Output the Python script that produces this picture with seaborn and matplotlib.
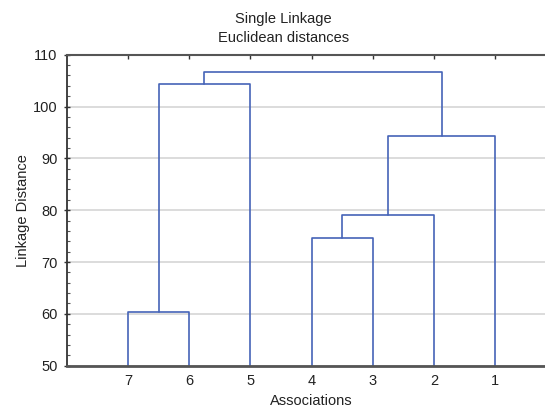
import matplotlib
matplotlib.use("Agg")
import matplotlib.pyplot as plt
from matplotlib.ticker import MultipleLocator
import numpy as np
import pandas as pd
import seaborn as sns

# Leaf labels in dendrogram order (left to right)
leaves = ["7", "6", "5", "4", "3", "2", "1"]

# Single-linkage merge steps: C1..C6 are the clusters formed at each step
link_left = ["7", "4", "C2", "C3", "C1", "C5"]
link_right = ["6", "3", "2", "1", "5", "C4"]
link_height = [60.3, 74.6, 79.0, 94.4, 104.4, 106.6]

y_ticks = [50, 60, 70, 80, 90, 100, 110]

# Node positions: leaves on integer slots, clusters at the midpoint of their children
node_x = {name: i + 1 for i, name in enumerate(leaves)}
node_y = {name: 0.0 for name in leaves}
rows = []
for k, (a, b, h) in enumerate(zip(link_left, link_right, link_height), start=1):
    xs = [node_x[a], node_x[a], node_x[b], node_x[b]]
    ys = [node_y[a], h, h, node_y[b]]
    for order, (xv, yv) in enumerate(zip(xs, ys)):
        rows.append({"link": k, "order": order, "x": xv, "y": yv})
    cname = f"C{k}"
    node_x[cname] = (node_x[a] + node_x[b]) / 2
    node_y[cname] = h
links = pd.DataFrame(rows)

sns.set_style("white")
plt.rcParams["font.family"] = ["Liberation Sans", "DejaVu Sans"]

fig = plt.figure(figsize=(5.45, 4.07), dpi=100)
ax = fig.add_axes([0.1224, 0.1015, 0.8985, 0.7641])

sns.lineplot(data=links, x="x", y="y", units="link", estimator=None, sort=False,
             color="#4563B8", linewidth=1.2, ax=ax, legend=False)

ax.set_xlim(0, 8)
ax.set_ylim(50, 110)
ax.set_xticks(range(1, len(leaves) + 1))
ax.set_xticklabels(leaves)
ax.set_yticks(y_ticks)
ax.yaxis.set_minor_locator(MultipleLocator(2))

ax.grid(axis="y", which="major", color="#DCDCDC", linewidth=1.4)
ax.set_axisbelow(True)

for side in ["left", "bottom", "top"]:
    ax.spines[side].set_visible(True)
ax.spines["right"].set_visible(False)
ax.spines["left"].set_color("#333333")
ax.spines["left"].set_linewidth(1.3)
ax.spines["bottom"].set_color("#555555")
ax.spines["bottom"].set_linewidth(2.0)
ax.spines["top"].set_color("#555555")
ax.spines["top"].set_linewidth(1.5)

ax.tick_params(axis="x", which="major", bottom=False, top=True, direction="in",
               length=3, width=1, color="#333333", pad=6, labelsize=10.5,
               labelcolor="#222222")
ax.tick_params(axis="y", which="major", left=True, direction="inout", length=5,
               width=1, color="#333333", pad=4, labelsize=10.5, labelcolor="#222222")
ax.tick_params(axis="y", which="minor", left=True, direction="in", length=2.5,
               width=0.8, color="#555555")

ax.set_xlabel("Associations", fontsize=10.5, color="#222222", labelpad=4.5)
ax.set_ylabel("Linkage Distance", fontsize=10.5, color="#222222", labelpad=2)

fig.text(0.52, 0.953, "Single Linkage", ha="center", va="center",
         fontsize=10.5, color="#222222")
fig.text(0.52, 0.906, "Euclidean distances", ha="center", va="center",
         fontsize=10.5, color="#222222")

fig.savefig("out.png", dpi=100)
